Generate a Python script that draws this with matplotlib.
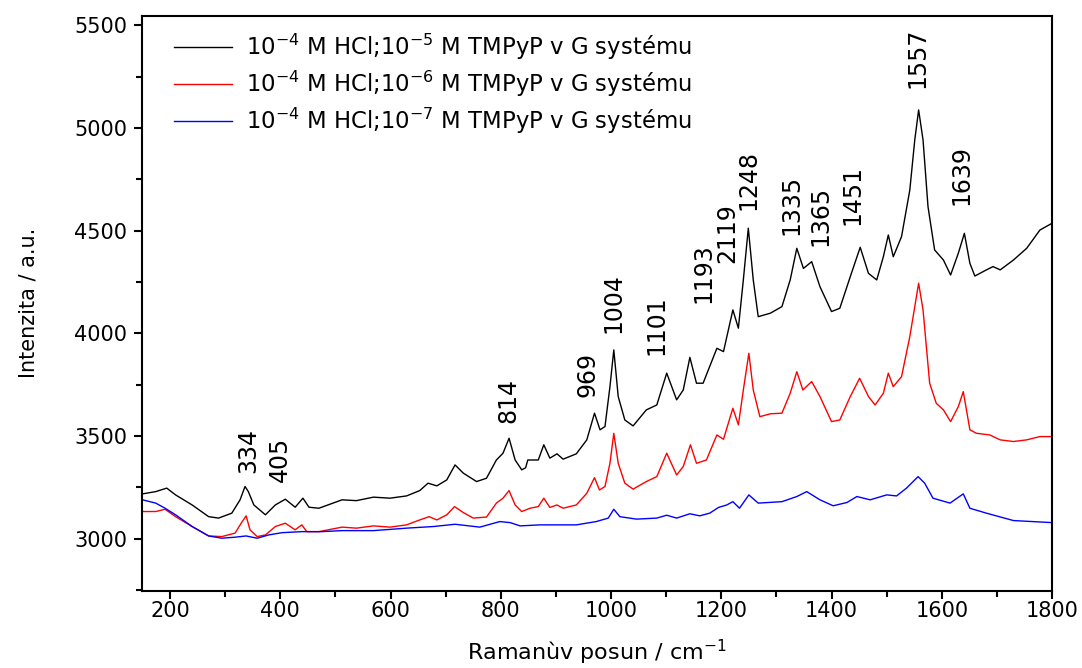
import numpy as np
import matplotlib
matplotlib.use("Agg")
from matplotlib import pyplot as plt
from matplotlib.ticker import MultipleLocator

# Raman shift (cm^-1) and intensity, one pair of lists per spectrum
x_black = [150, 174, 194, 210, 240, 270, 288, 312, 327, 336, 342, 352, 373, 391, 409, 427, 441, 452, 470,
           512, 538, 569, 599, 629, 653, 668, 684, 702, 717, 732, 756, 774, 792, 804, 815, 826, 838, 845,
           849, 868, 878, 889, 902, 913, 937, 956, 970, 980, 989, 998, 1005, 1013, 1025, 1040, 1064, 1083,
           1101, 1119, 1131, 1143, 1155, 1167, 1192, 1204, 1221, 1231, 1240, 1249, 1258, 1267, 1289, 1310,
           1325, 1337, 1349, 1364, 1379, 1400, 1415, 1434, 1452, 1467, 1482, 1494, 1503, 1512, 1527, 1542,
           1551, 1558, 1566, 1575, 1587, 1603, 1616, 1630, 1641, 1651, 1660, 1681, 1693, 1706, 1730, 1754,
           1778, 1800]
y_black = [3218, 3229, 3246, 3213, 3164, 3107, 3100, 3124, 3189, 3254, 3229, 3164, 3116, 3164, 3192, 3153,
           3197, 3153, 3148, 3189, 3185, 3202, 3197, 3208, 3234, 3270, 3257, 3286, 3359, 3319, 3278, 3294,
           3383, 3416, 3489, 3383, 3335, 3345, 3383, 3383, 3457, 3392, 3413, 3387, 3413, 3481, 3611, 3530,
           3546, 3740, 3919, 3692, 3578, 3549, 3627, 3651, 3806, 3676, 3724, 3883, 3757, 3757, 3927, 3911,
           4114, 4025, 4260, 4512, 4260, 4081, 4098, 4130, 4260, 4414, 4316, 4349, 4227, 4106, 4122, 4276,
           4419, 4292, 4260, 4373, 4479, 4373, 4471, 4698, 4942, 5088, 4942, 4617, 4406, 4357, 4284, 4390,
           4487, 4341, 4279, 4309, 4325, 4309, 4357, 4414, 4503, 4536]

x_red = [150, 174, 191, 210, 240, 270, 294, 318, 329, 338, 345, 358, 373, 391, 409, 427, 439, 448, 470,
         512, 538, 569, 599, 629, 653, 670, 684, 702, 716, 732, 750, 774, 792, 804, 815, 826, 838, 853,
         868, 878, 889, 902, 913, 937, 956, 970, 979, 989, 998, 1005, 1013, 1025, 1040, 1064, 1083, 1101,
         1119, 1131, 1144, 1155, 1173, 1192, 1204, 1221, 1231, 1240, 1250, 1258, 1270, 1289, 1310, 1325,
         1337, 1348, 1364, 1379, 1400, 1415, 1434, 1451, 1467, 1479, 1494, 1503, 1512, 1527, 1542, 1551,
         1558, 1566, 1578, 1590, 1603, 1616, 1630, 1639, 1651, 1663, 1687, 1706, 1730, 1754, 1778, 1800]
y_red = [3132, 3132, 3143, 3107, 3059, 3013, 3010, 3027, 3075, 3111, 3043, 3010, 3018, 3059, 3075, 3043,
         3067, 3034, 3034, 3056, 3051, 3062, 3056, 3067, 3091, 3107, 3091, 3116, 3156, 3127, 3100, 3105,
         3173, 3197, 3234, 3164, 3132, 3148, 3156, 3197, 3152, 3164, 3148, 3164, 3221, 3297, 3237, 3254,
         3367, 3513, 3367, 3270, 3241, 3278, 3302, 3416, 3310, 3351, 3457, 3367, 3383, 3505, 3484, 3635,
         3554, 3724, 3903, 3724, 3594, 3608, 3611, 3708, 3813, 3724, 3765, 3692, 3570, 3578, 3692, 3781,
         3692, 3651, 3708, 3806, 3740, 3789, 3984, 4130, 4244, 4114, 3757, 3659, 3627, 3570, 3643, 3716,
         3530, 3513, 3505, 3481, 3473, 3481, 3497, 3497]

x_blue = [150, 174, 191, 210, 240, 270, 294, 318, 338, 358, 379, 403, 439, 475, 512, 569, 629, 678, 717,
          762, 798, 817, 835, 871, 901, 937, 973, 995, 1005, 1016, 1046, 1083, 1101, 1119, 1143, 1161,
          1179, 1195, 1210, 1221, 1233, 1250, 1267, 1310, 1337, 1355, 1379, 1403, 1428, 1446, 1470, 1500,
          1518, 1536, 1557, 1569, 1584, 1615, 1639, 1651, 1681, 1730, 1800]
y_blue = [3189, 3173, 3148, 3116, 3059, 3013, 3002, 3007, 3013, 3002, 3018, 3029, 3034, 3034, 3039, 3039,
          3051, 3059, 3070, 3056, 3083, 3078, 3062, 3067, 3067, 3067, 3083, 3100, 3143, 3107, 3095, 3100,
          3114, 3100, 3121, 3111, 3124, 3152, 3164, 3180, 3148, 3213, 3173, 3180, 3205, 3229, 3189, 3160,
          3176, 3205, 3189, 3213, 3208, 3246, 3302, 3270, 3197, 3173, 3218, 3148, 3124, 3088, 3078]

series_labels = [r"10$^{-4}$ M HCl;10$^{-5}$ M TMPyP v G systému",
                 r"10$^{-4}$ M HCl;10$^{-6}$ M TMPyP v G systému",
                 r"10$^{-4}$ M HCl;10$^{-7}$ M TMPyP v G systému"]

# peak labels as printed on the chart (including the "2119" typo)
peak_text = ["334", "405", "814", "969", "1004", "1101", "1193", "2119", "1248",
             "1335", "1365", "1451", "1557", "1639"]
peak_x = [341, 400, 814, 957, 1004, 1082, 1167, 1210, 1250, 1327, 1379, 1438, 1556, 1636]
peak_y = [3319, 3278, 3562, 3692, 4000, 3895, 4146, 4341, 4601, 4479, 4425, 4528, 5194, 4625]


def main():
    plt.rcParams['font.family'] = ['DejaVu Sans']
    plt.rcParams['mathtext.fontset'] = 'dejavusans'

    fig = plt.figure(figsize=(10.82, 6.68), dpi=100)
    ax = fig.add_axes([0.1317, 0.1153, 0.8406, 0.8612])

    ax.plot(x_black, y_black, color='black', lw=1.0, label=series_labels[0])
    ax.plot(x_red, y_red, color='#ff0000', lw=1.0, label=series_labels[1])
    ax.plot(x_blue, y_blue, color='#0000ff', lw=1.0, label=series_labels[2])

    for txt, px, py in zip(peak_text, peak_x, peak_y):
        ax.text(px, py, txt, rotation=90, ha='center', va='bottom', fontsize=17)

    ax.set_xlim(150, 1800)
    ax.set_ylim(2745, 5547)
    ax.xaxis.set_major_locator(MultipleLocator(200))
    ax.xaxis.set_minor_locator(MultipleLocator(100))
    ax.yaxis.set_major_locator(MultipleLocator(500))
    ax.yaxis.set_minor_locator(MultipleLocator(250))
    ax.tick_params(which='both', direction='out', top=False, right=False, width=1.5, labelsize=15)
    ax.tick_params(which='major', length=6)
    ax.tick_params(which='minor', length=4)
    ax.tick_params(axis='x', pad=1.5)
    ax.tick_params(axis='y', pad=5)
    for sp in ax.spines.values():
        sp.set_linewidth(1.5)

    ax.set_xlabel(r"Ramanùv posun / cm$^{-1}$", fontsize=16, labelpad=12)
    ax.set_ylabel("Intenzita / a.u.", fontsize=15, labelpad=26)

    ax.legend(loc='upper left', bbox_to_anchor=(0.035, 0.972), frameon=False, fontsize=16.4,
              handlelength=2.55, handletextpad=0.6, labelspacing=0.3, borderaxespad=0.0,
              borderpad=0.0)

    fig.savefig("out.png", dpi=100)


if __name__ == '__main__':
    main()
